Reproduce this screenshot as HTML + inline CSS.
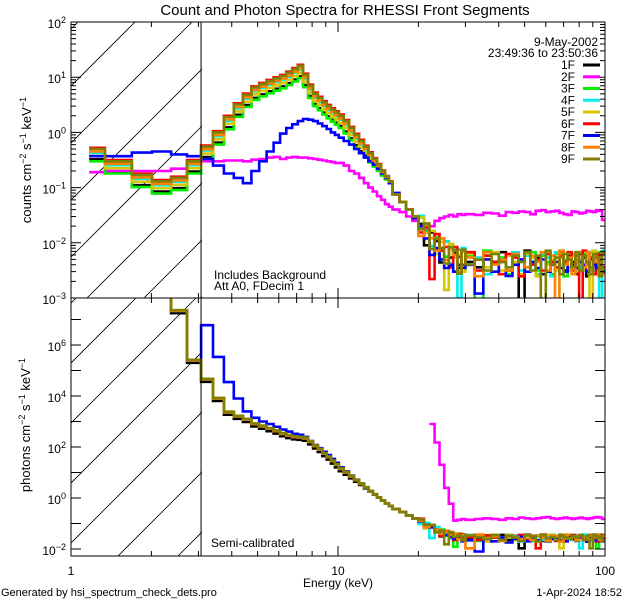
<!DOCTYPE html>
<html><head><meta charset="utf-8"><style>
html,body{margin:0;padding:0;background:#fff;}
svg{display:block;font-family:"Liberation Sans",sans-serif;}
</style></head><body>
<svg id="chart" width="640" height="600" viewBox="0 0 640 600" xmlns="http://www.w3.org/2000/svg">
<defs>
<clipPath id="clipTop"><rect x="71" y="22" width="534" height="276"/></clipPath>
<clipPath id="clipBot"><rect x="71" y="298" width="534" height="258"/></clipPath>
<clipPath id="hatchTop"><rect x="71" y="22" width="131" height="276"/></clipPath>
<clipPath id="hatchBot"><rect x="71" y="298" width="131" height="258"/></clipPath>
</defs>
<rect width="640" height="600" fill="#fff"/>
<text x="345" y="15" font-size="15" text-anchor="middle">Count and Photon Spectra for RHESSI Front Segments</text>
<g id="hatch" stroke="#000" stroke-width="0.8"></g>
<g id="series"></g>
<g id="axes" stroke="#000" stroke-width="1" fill="none"></g>
<g id="labels" font-size="12" fill="#000"></g>
<text transform="translate(31,160) rotate(-90)" font-size="13" text-anchor="middle">counts cm<tspan dy="-5" font-size="9">−2</tspan><tspan dy="5"> s</tspan><tspan dy="-5" font-size="9">−1</tspan><tspan dy="5"> keV</tspan><tspan dy="-5" font-size="9">−1</tspan></text>
<text transform="translate(30,425) rotate(-90)" font-size="13" text-anchor="middle">photons cm<tspan dy="-5" font-size="9">−2</tspan><tspan dy="5"> s</tspan><tspan dy="-5" font-size="9">−1</tspan><tspan dy="5"> keV</tspan><tspan dy="-5" font-size="9">−1</tspan></text>
<text x="214" y="279" font-size="12">Includes Background</text>
<text x="214" y="290" font-size="12">Att A0, FDecim 1</text>
<text x="211" y="547" font-size="12">Semi-calibrated</text>
<text x="598" y="46" font-size="12" text-anchor="end">9-May-2002</text>
<text x="598" y="57" font-size="12" text-anchor="end">23:49:36 to 23:50:36</text>
<g id="legend" font-size="12"></g>
<text x="338" y="587" font-size="12" text-anchor="middle">Energy (keV)</text>
<text x="1" y="596" font-size="11">Generated by hsi_spectrum_check_dets.pro</text>
<text x="622" y="596" font-size="11" text-anchor="end">1-Apr-2024 18:52</text>
</svg>
<script>
// ---- data ----
const detNames = ["1F","2F","3F","4F","5F","6F","7F","8F","9F"];
const detColors = ["#000000","#ff00ff","#00ee00","#00eeee","#d4c800","#ff0000","#0000ff","#ff8000","#808000"];
const lowEdges = [1.17,1.34,1.69,2.01,2.37,2.72,3.07];
const countsBase = [0.5,0.3,0.17,0.13,0.15,0.3,
 0.55,1.0,1.9,3.2,4.8,6.5,7.5,8.5,9.5,10.5,12,14,16,11,7,5,4.2,3.5,3.0,2.6,2.3,
 2.0,1.6,1.2,0.9,0.7,0.55,0.42,0.33,0.26,0.2,0.16,0.13,
 0.075,0.055,0.04,0.03,0.022,0.015,0.011,0.009,0.008,0.007,0.006,0.006,0.005,0.005,
 0.0045,0.0045,0.0045,0.0045,0.0045,0.0045,0.0045,0.0045,0.0045,0.0045,0.0045,0.0045,0.0045,0.0045,
 0.0045,0.0045,0.0045,0.0045,0.0045,0.0045,0.0045,0.0045,0.0045,0.0045,0.0045,0.0045,0.0045,0.0045];
const counts2F = [0.19,0.2,0.2,0.2,0.22,0.26,
 0.3,0.3,0.31,0.31,0.3,0.32,0.33,0.35,0.36,0.33,0.35,0.36,0.35,0.35,0.34,0.33,0.32,0.31,0.3,0.29,0.28,
 0.28,0.25,0.2,0.18,0.15,0.12,0.1,0.085,0.07,0.06,0.05,0.045,
 0.04,0.036,0.03,0.025,0.02,0.018,0.02,0.025,0.028,0.03,0.032,0.03,0.033,0.032,
 0.033,0.032,0.035,0.034,0.031,0.036,0.035,0.037,0.036,0.033,0.038,0.039,0.036,0.037,
 0.038,0.035,0.033,0.032,0.037,0.036,0.034,0.035,0.038,0.037,0.036,0.039,0.038,0.026];
const counts7F = [0.37,0.37,0.43,0.45,0.4,0.37,
 0.33,0.25,0.18,0.15,0.12,0.2,0.3,0.45,0.65,0.95,1.2,1.4,1.6,1.75,1.7,1.6,1.45,1.3,1.15,1.0,0.9,
 0.8,0.7,0.6,0.5,0.42,0.35,0.3,0.26,0.22,0.18,0.15,0.12,
 0.08,0.055,0.04,0.028,0.02,0.012,0.006,0.008,0.005,0.0035,0.004,0.003,0.004,0.0035,
 0.004,0.0012,0.005,0.003,0.0045,0.0025,0.004,0.005,0.003,0.0045,0.0035,0.005,0.003,0.004,
 0.0045,0.0035,0.003,0.005,0.004,0.0035,0.0045,0.004,0.003,0.005,0.004,0.0035,0.004,0.003];
const countGain = [0.65,1,0.6,0.85,0.75,1.05,1,0.9,1.0];
const photBase = [1e9,1e9,1e9,1e9,2.2e7,2.5e5,
 4.5e4,8e3,2.3e3,1.6e3,1.2e3,800,650,520,420,330,280,250,240,220,160,110,80,55,40,28,20,
 14,10,7,5,3.6,2.6,1.9,1.4,1.05,0.8,0.62,0.48,
 0.37,0.28,0.21,0.16,0.12,0.09,0.07,0.055,0.045,0.04,0.035,0.032,0.03,0.03,
 0.028,0.028,0.028,0.028,0.028,0.028,0.028,0.028,0.028,0.028,0.028,0.028,0.028,0.028,
 0.028,0.028,0.028,0.028,0.028,0.028,0.028,0.028,0.028,0.028,0.028,0.028,0.028,0.028];
const phot2F = [null,null,null,null,null,null,
 null,null,null,null,null,null,null,null,null,null,null,null,null,null,null,null,null,null,null,null,null,
 null,null,null,null,null,null,null,null,null,null,null,null,
 null,null,null,null,null,null,800,150,20,2.5,0.6,0.13,0.14,0.15,
 0.14,0.15,0.16,0.15,0.14,0.16,0.15,0.17,0.16,0.15,0.16,0.17,0.18,0.16,
 0.15,0.16,0.17,0.16,0.15,0.16,0.17,0.16,0.15,0.16,0.17,0.18,0.17,0.15];
const phot7F = [1e9,1e9,1e9,1e9,2.2e7,2.5e5,
 6e6,3.4e5,3.5e4,8e3,2.5e3,1.4e3,1000,800,620,480,400,330,300,250,170,120,90,65,48,34,24,
 16,11,7.5,5.2,3.7,2.6,1.9,1.4,1.05,0.8,0.62,0.48,
 0.37,0.28,0.21,0.16,0.12,0.09,0.07,0.05,0.04,0.035,0.03,0.025,0.03,0.02,
 0.022,0.008,0.025,0.02,0.028,0.018,0.025,0.03,0.02,0.028,0.022,0.03,0.02,0.025,
 0.028,0.022,0.02,0.03,0.025,0.022,0.028,0.025,0.02,0.03,0.025,0.022,0.025,0.02];
const photGain = [0.8,1,1,1,1.05,1,1,1,1.05];
const tailJitter = [1,1.5,0.7,1.3,0.2,1.6,0.9,1.2,0.6,1.4,1.1,0.8,1.5,0.7,1.3,1.0,0.6,1.4,1.2,0.55,1.5,0.9,1.1,0.7,1.4,1.0,0.8,1.3];
const topTicks = [2,1,0,-1,-2,-3];
const botTicks = [6,4,2,0,-2];
const xTickLabels = ["1","10","100"];

// ---- bin edges (x categories) ----
const edges = lowEdges.slice();
for (let k=1;k<=21;k++) edges.push(3.07+k/3);
for (let k=1;k<=12;k++) edges.push(10+k*0.5);
for (let k=17;k<=30;k++) edges.push(k);
for (let k=1;k<=28;k++) edges.push(30+k*2.5);

// ---- scales ----
const X0=71, XD=267;
const xs = e => X0 + XD*Math.log10(e);
const yTop = v => 22 + (2-Math.log10(v))*55.2;
const yBot = v => 345 + (6-Math.log10(v))*25.5;
const NS="http://www.w3.org/2000/svg";
function mk(tag, attrs, parent){const el=document.createElementNS(NS,tag);for(const k in attrs)el.setAttribute(k,attrs[k]);parent.appendChild(el);return el;}

function seriesCounts(i){
  if(i===1) return counts2F;
  if(i===6) return counts7F;
  return countsBase.map((v,j)=>{
    const e=edges[j]; const w=Math.min(1,Math.max(0,(16-e)/4));
    let r=v*Math.pow(countGain[i],w);
    if(e>=20) r*=tailJitter[(j+3*i)%tailJitter.length];
    return r;});
}
function seriesPhot(i){
  if(i===1) return phot2F;
  if(i===6) return phot7F;
  return photBase.map((v,j)=>{
    const e=edges[j]; const w=Math.min(1,Math.max(0,(14-e)/4));
    let r=v*Math.pow(photGain[i],w);
    if(e>=20) r*=Math.pow(tailJitter[(j+5*i)%tailJitter.length],0.6);
    return r;});
}
function stepPath(vals, yf){
  let d="", pen=false;
  for(let j=0;j<vals.length;j++){
    const v=vals[j];
    if(v==null||!(v>0)){pen=false;continue;}
    const x1=xs(edges[j]), x2=xs(edges[j+1]);
    let y=yf(v); if(y>700)y=700; if(y<-200)y=-200;
    if(!pen){d+="M"+x1.toFixed(1)+","+y.toFixed(1);pen=true;}
    else d+="V"+y.toFixed(1);
    d+="H"+x2.toFixed(1);
  }
  return d;
}

// ---- hatch ----
const hatch=document.getElementById('hatch');
const ht=mk('g',{'clip-path':'url(#hatchTop)'},hatch);
for(let c=214-57*6;c<214+57*6;c+=57){
  const l=mk('line',{x1:c-22,y1:22,x2:c-22-300,y2:322},ht);
  
  
}
const hb=mk('g',{'clip-path':'url(#hatchBot)'},hatch);
for(let c=494-60*6;c<494+60*6;c+=60){
  const l=mk('line',{x1:c-298,y1:298,x2:c-298-300,y2:598},hb);
  
  
}

// ---- series ----
const sg=document.getElementById('series');
const gt=mk('g',{'clip-path':'url(#clipTop)'},sg);
const gb=mk('g',{'clip-path':'url(#clipBot)'},sg);
for(let i=0;i<detNames.length;i++){
  const p=mk('path',{d:stepPath(seriesCounts(i),yTop),fill:'none',stroke:detColors[i],'stroke-width':2.6},gt);
  
  
  const q=mk('path',{d:stepPath(seriesPhot(i),yBot),fill:'none',stroke:detColors[i],'stroke-width':2.6},gb);
  
  
}

// ---- axes ----
const ax=document.getElementById('axes');
const frame=mk('rect',{x:71,y:22,width:534,height:534},ax);


const divider=mk('line',{x1:71,y1:298,x2:605,y2:298},ax);


const vline=mk('line',{x1:xs(3.07),y1:22,x2:xs(3.07),y2:556},ax);


let td="";
for(let dec=0;dec<2;dec++)for(let m=1;m<=9;m++){
  const e=Math.pow(10,dec)*m; if(m===1&&dec===0)continue; const x=xs(e); const L=(m===1)?10:5;
  td+=`M${x},22v${L}M${x},298v${-L}M${x},298v${L}M${x},556v${-L}`;
}
for(let dec=-3;dec<2;dec++)for(let m=1;m<=9;m++){
  const y=yTop(Math.pow(10,dec)*m); if(y<22)continue; const L=(m===1)?10:5;
  td+=`M71,${y}h${L}M605,${y}h${-L}`;
}
for(let dec=-2;dec<=7;dec++){const y=yBot(Math.pow(10,dec)); td+=`M71,${y}h10M605,${y}h-10`;}
const ticks=mk('path',{d:td},ax);



// ---- labels ----
const lb=document.getElementById('labels');
function expLabel(x,y,exp,name){
  const t=mk('text',{x:x,y:y,'text-anchor':'end'},lb);
  
  
  t.textContent='10';
  const s=mk('tspan',{dy:-5,'font-size':9},t); s.textContent=(exp<0?'−':'')+Math.abs(exp);
}
topTicks.forEach(e=>{expLabel(66,yTop(Math.pow(10,e))+6,e,'top-y-tick-label');});
botTicks.forEach(e=>{expLabel(66,yBot(Math.pow(10,e))+6,e,'bottom-y-tick-label');});
xTickLabels.forEach(s=>{
  const t=mk('text',{x:xs(parseFloat(s)),y:575,'text-anchor':'middle'},lb);
  
  
  t.textContent=s;
});

// ---- legend ----
const lg=document.getElementById('legend');
detNames.forEach((n,i)=>{
  const y=69+i*11.75;
  const t=mk('text',{x:575,y:y,'text-anchor':'end'},lg);
  
  
  t.textContent=n;
  const l=mk('line',{x1:583,y1:y-4,x2:600,y2:y-4,stroke:detColors[i],'stroke-width':3},lg);
  
  
});
</script>
</body></html>
